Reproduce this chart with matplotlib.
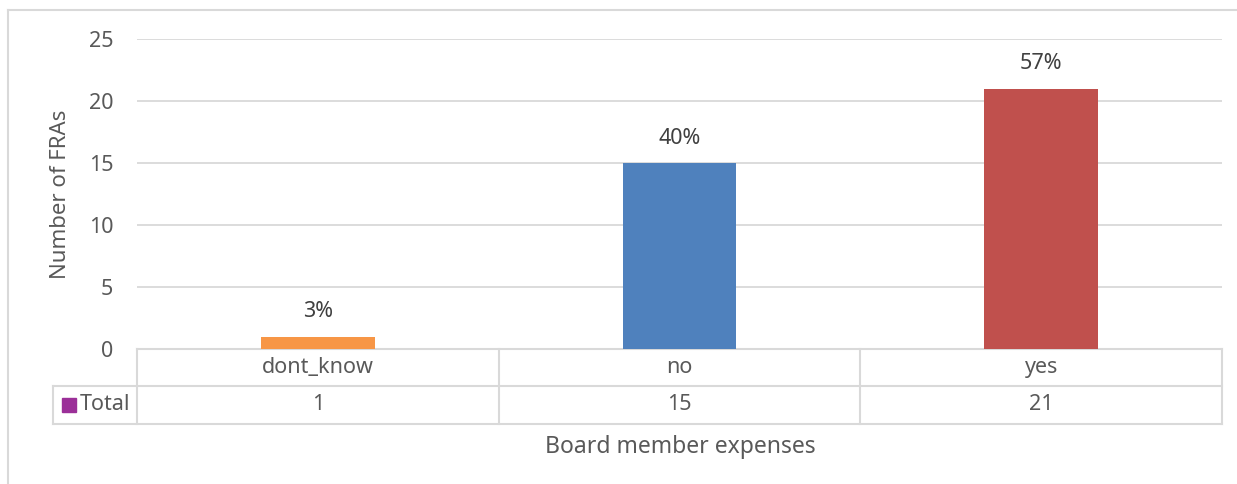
import matplotlib.pyplot as plt
from matplotlib.patches import Rectangle
import numpy as np

# Dados: despesas dos membros do conselho
categories = ['dont_know', 'no', 'yes']
totals = [1, 15, 21]
pct_labels = ['3%', '40%', '57%']
bar_colors = ['#F79646', '#4F81BD', '#C0504D']
series_name = 'Total'
series_color = '#9B2F98'

W, H = 1237, 484
plt.rcParams['font.family'] = ['Noto Sans', 'DejaVu Sans']
text_gray = '#595959'
grid_gray = '#D9D9D9'
fs = 15.5

fig = plt.figure(figsize=(W / 100, H / 100), dpi=100)

# moldura do gráfico
fig.add_artist(plt.Line2D([8 / W, 8 / W], [0, 1 - 10 / H], transform=fig.transFigure, color=grid_gray, lw=1.5))
fig.add_artist(plt.Line2D([8 / W, 1], [1 - 10 / H, 1 - 10 / H], transform=fig.transFigure, color=grid_gray, lw=1.5))

ax = fig.add_axes([137 / W, 1 - 349 / H, (1222 - 137) / W, (349 - 39) / H])
x = np.arange(len(categories))
ax.bar(x, totals, width=0.315, color=bar_colors, zorder=3)
ax.set_xlim(-0.5, len(categories) - 0.5)
ax.set_ylim(0, 25)
ax.set_yticks(range(0, 26, 5))
ax.yaxis.grid(True, color=grid_gray, lw=1.3, zorder=0)
ax.set_xticks([])
for s in ax.spines.values():
    s.set_visible(False)
ax.tick_params(axis='y', length=0, pad=17, labelsize=fs, labelcolor=text_gray)

# rótulos de porcentagem
for xi, v, lab in zip(x, totals, pct_labels):
    ax.annotate(lab, (xi, v), xytext=(0, 18), textcoords='offset points',
                ha='center', va='center', fontsize=fs, color='#404040')

ax.set_ylabel('Number of FRAs', fontsize=16, color=text_gray)
ax.yaxis.set_label_coords((71 - 137) / (1222 - 137), 0.5)

# tabela de dados abaixo do eixo
ph = (349 - 39)
cw = (1222 - 137) / len(categories)
row1 = -37 / ph
row2 = -75 / ph
tr = ax.get_xaxis_transform()
left_lab = -0.5 - (137 - 53) / cw
line_kw = dict(color=grid_gray, lw=1.5, clip_on=False, transform=tr)
ax.plot([-0.5, 2.5], [0, 0], **line_kw)
ax.plot([left_lab, 2.5], [row1, row1], **line_kw)
ax.plot([left_lab, 2.5], [row2, row2], **line_kw)
ax.plot([left_lab, left_lab], [row1, row2], **line_kw)
for b in np.arange(len(categories) + 1) - 0.5:
    ax.plot([b, b], [0, row2], **line_kw)

for xi, cat, v in zip(x, categories, totals):
    ax.text(xi, row1 / 2, cat, transform=tr, ha='center', va='center', fontsize=fs, color=text_gray)
    ax.text(xi, (row1 + row2) / 2, str(v), transform=tr, ha='center', va='center', fontsize=fs, color=text_gray)

# legenda da série na tabela
ax.add_patch(Rectangle((left_lab + (62 - 53) / cw, (row1 + row2) / 2 - 7 / ph), 14 / cw, 14 / ph,
                       transform=tr, color=series_color, clip_on=False))
ax.text(left_lab + (80 - 53) / cw, (row1 + row2) / 2, series_name, transform=tr,
        ha='left', va='center', fontsize=fs, color=text_gray)

fig.text(680 / W, 1 - 447 / H, 'Board member expenses', ha='center', va='center', fontsize=16.5, color=text_gray)

fig.savefig('out.png', dpi=100, facecolor='white')
